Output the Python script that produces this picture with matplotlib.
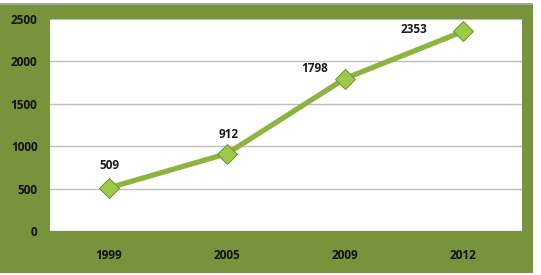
import matplotlib
matplotlib.use("Agg")
import matplotlib.pyplot as plt
from matplotlib.patches import Rectangle

years = ["1999", "2005", "2009", "2012"]
values = [509, 912, 1798, 2353]
yticks = [0, 500, 1000, 1500, 2000, 2500]

W, H = 541, 275
fig = plt.figure(figsize=(W / 100, H / 100), dpi=100, facecolor="white")

# green backdrop of the chart area, with thin grey top edge
fig.patches.append(Rectangle((0, 2 / H), 533 / W, 268 / H,
                             transform=fig.transFigure, facecolor="#77933c",
                             edgecolor="none", zorder=-10))
fig.patches.append(Rectangle((0, 270 / H), 533 / W, 1.5 / H,
                             transform=fig.transFigure, facecolor="#a6a6a6",
                             edgecolor="none", zorder=-10))

ax = fig.add_axes([50 / W, (H - 231) / H, 472 / W, 212 / H])
ax.set_facecolor("white")
x = range(len(years))
ax.plot(x, values, color="#8db43e", lw=3.8, solid_capstyle="round", zorder=3)
ax.plot(x, values, ls="none", marker="D", ms=10, mfc="#9bc94a",
        mec="#6e8f2c", mew=0.7, zorder=4)

# label offsets in pixels (dx, dy) and alignment
offs = [(0, 22, "center"), (2, 19, "center"), (-17, 10, "right"), (-36, 2, "right")]
for i, v in enumerate(values):
    dx, dy, ha = offs[i]
    ax.annotate(str(v), (i, v), xytext=(dx * 0.72, dy * 0.72),
                textcoords="offset points", ha=ha, va="center",
                fontsize=8.5, fontweight="bold", color="#1a1a1a",
                family="Open Sans")

ax.set_xlim(-0.5, len(years) - 0.5)
ax.set_ylim(0, 2500)
ax.set_yticks(yticks)
ax.set_xticks(list(x))
ax.set_xticklabels(years)
ax.yaxis.grid(True, color="#bfbfbf", lw=1)
ax.set_axisbelow(True)
for s in ax.spines.values():
    s.set_visible(False)
ax.tick_params(length=0, labelsize=8.5, colors="#111111", pad=9)
ax.tick_params(axis="x", pad=13)
for lab in ax.get_xticklabels() + ax.get_yticklabels():
    lab.set_fontweight("bold")
    lab.set_family("Open Sans")

fig.savefig("out.png", dpi=100, facecolor=fig.get_facecolor())
